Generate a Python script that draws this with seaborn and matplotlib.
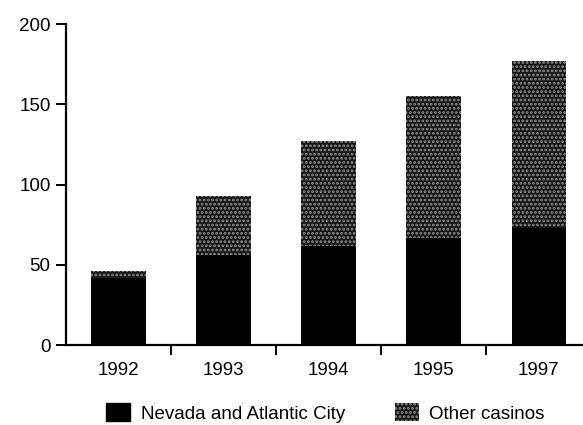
import matplotlib
matplotlib.use("Agg")
import matplotlib.pyplot as plt
import matplotlib.patches as mpatches
import seaborn as sns
import pandas as pd

years = ["1992", "1993", "1994", "1995", "1997"]
nevada_atlantic = [42, 56, 62, 67, 73]
totals = [46, 93, 127, 155, 177]
yticks = [0, 50, 100, 150, 200]

df = pd.DataFrame({"year": years, "nevada": nevada_atlantic, "total": totals})

sns.set_style("white", {"text.color": "black", "axes.edgecolor": "black",
                        "xtick.color": "black", "ytick.color": "black"})
plt.rcParams["font.family"] = ["Liberation Sans", "DejaVu Sans"]
plt.rcParams["hatch.linewidth"] = 1.3

fig = plt.figure(figsize=(5.83, 4.25), dpi=100)
ax = fig.add_axes([0.113, 0.188, 0.887, 0.755])

# other casinos on top (full total), then black base over it
sns.barplot(data=df, x="year", y="total", color="#161616", width=0.52,
            saturation=1, ax=ax)
for p in ax.patches:
    p.set_hatch("....")
    p.set_edgecolor("#8f8f8f")
    p.set_linewidth(0)
n_top = len(ax.patches)
sns.barplot(data=df, x="year", y="nevada", color="black", width=0.52,
            saturation=1, ax=ax)
for p in ax.patches[n_top:]:
    p.set_linewidth(0)

ax.set_xlim(-0.5, 4.42)
ax.set_ylim(0, 200)
ax.set_yticks(yticks)
ax.set_xlabel("")
ax.set_ylabel("")
sns.despine(ax=ax)
ax.spines["left"].set_linewidth(1.6)
ax.spines["bottom"].set_linewidth(1.6)

ax.set_xticks(range(len(years)))
ax.set_xticklabels(years)
ax.tick_params(axis="x", which="major", length=0, pad=12, labelsize=13.5,
               labelcolor="black")
ax.set_xticks([0.5, 1.5, 2.5, 3.5], minor=True)
ax.tick_params(axis="x", which="minor", length=7, width=1.4, direction="out",
               bottom=True, color="black")
ax.tick_params(axis="y", length=7, width=1.4, direction="out", left=True,
               labelsize=13.5, pad=4, color="black", labelcolor="black")

h1 = mpatches.Patch(facecolor="black", edgecolor="black",
                    label="Nevada and Atlantic City")
h2 = mpatches.Patch(facecolor="#161616", edgecolor="#8f8f8f", hatch="....",
                    linewidth=0, label="Other casinos")
leg = fig.legend(handles=[h1, h2], loc="center left",
                 bbox_to_anchor=(106 / 583, 1 - 413 / 425),
                 ncol=2, frameon=False, fontsize=13.5, handlelength=1.3,
                 handleheight=1.1, columnspacing=2.65, handletextpad=0.55,
                 borderpad=0, borderaxespad=0)
for t in leg.get_texts():
    t.set_color("black")

fig.savefig("out.png", dpi=100)
